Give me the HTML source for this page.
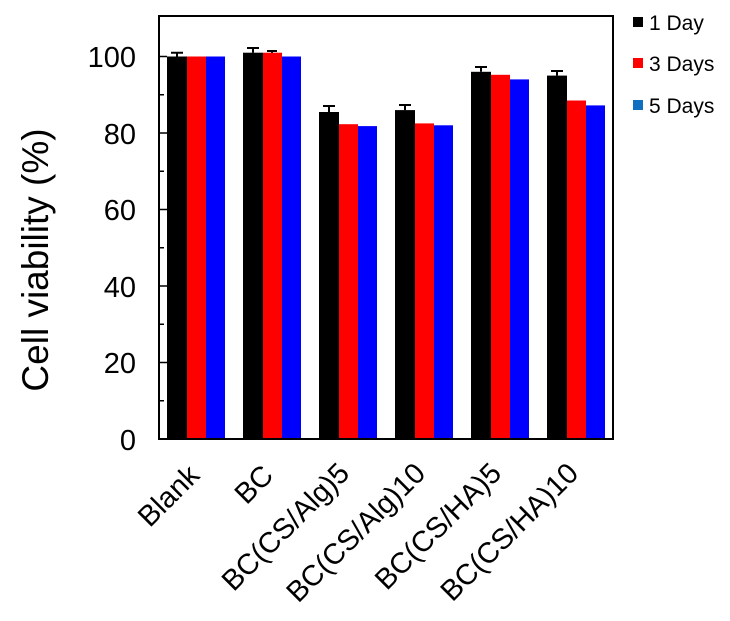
<!DOCTYPE html>
<html><head><meta charset="utf-8"><style>body{margin:0;background:#fff}</style></head>
<body>
<svg width="730" height="616" xmlns="http://www.w3.org/2000/svg" font-family="Liberation Sans, Arial, sans-serif">
<rect width="730" height="616" fill="#fff"/>
<g>
<rect x="167" y="56.5" width="20" height="382.5" fill="#000"/>
<rect x="187" y="56.5" width="19" height="382.5" fill="#f00"/>
<rect x="206" y="56.5" width="19" height="382.5" fill="#00f"/>
<rect x="243" y="52.7" width="20" height="386.3" fill="#000"/>
<rect x="263" y="52.7" width="19" height="386.3" fill="#f00"/>
<rect x="282" y="56.5" width="19" height="382.5" fill="#00f"/>
<rect x="319" y="112" width="20" height="327" fill="#000"/>
<rect x="339" y="124.2" width="19" height="314.8" fill="#f00"/>
<rect x="358" y="126.1" width="19" height="312.9" fill="#00f"/>
<rect x="395" y="110.1" width="20" height="328.9" fill="#000"/>
<rect x="415" y="123.4" width="19" height="315.6" fill="#f00"/>
<rect x="434" y="125.3" width="19" height="313.7" fill="#00f"/>
<rect x="471" y="71.8" width="20" height="367.2" fill="#000"/>
<rect x="491" y="74.8" width="19" height="364.2" fill="#f00"/>
<rect x="510" y="79.4" width="19" height="359.6" fill="#00f"/>
<rect x="547" y="75.6" width="20" height="363.4" fill="#000"/>
<rect x="567" y="100.5" width="19" height="338.5" fill="#f00"/>
<rect x="586" y="105.4" width="19" height="333.6" fill="#00f"/>
</g>
<g stroke="#000" stroke-width="2" fill="none">
<path d="M177 56.5V52.7M171 52.7H183"/>
<path d="M253 52.7V48M247 48H259"/>
<path d="M272 52.7V51M267 51H277"/>
<path d="M329 112V106M323 106H335"/>
<path d="M405 110.1V105M399 105H411"/>
<path d="M481 71.8V67M475 67H487"/>
<path d="M557 75.6V71M551 71H563"/>
</g>
<rect x="159" y="16" width="454" height="423" fill="none" stroke="#000" stroke-width="2"/>
<g stroke="#000" stroke-width="1.5">
<path d="M159 56.5H167M159 133H167M159 209.5H167M159 286H167M159 362.5H167"/>
<path d="M159 94.7H164M159 171.2H164M159 247.7H164M159 324.2H164M159 400.7H164"/>
</g>
<g font-size="29" text-anchor="end" fill="#000">
<text x="136" y="67">100</text>
<text x="136" y="144">80</text>
<text x="136" y="220">60</text>
<text x="136" y="297">40</text>
<text x="136" y="373">20</text>
<text x="136" y="450">0</text>
</g>
<text transform="translate(48,260) rotate(-90)" font-size="37" text-anchor="middle">Cell viability (%)</text>
<g font-size="29" text-anchor="end">
<text transform="translate(201,477) rotate(-45)">Blank</text>
<text transform="translate(275,477) rotate(-45)">BC</text>
<text transform="translate(351,475) rotate(-45)">BC(CS/Alg)5</text>
<text transform="translate(427,475) rotate(-45)">BC(CS/Alg)10</text>
<text transform="translate(503,475) rotate(-45)">BC(CS/HA)5</text>
<text transform="translate(580,475) rotate(-45)">BC(CS/HA)10</text>
</g>
<rect x="633" y="17" width="10" height="10" fill="#000"/>
<rect x="633" y="58" width="10" height="10" fill="#f00"/>
<rect x="633" y="100" width="10" height="10" fill="#1070c0"/>
<g font-size="21">
<text x="649" y="30">1 Day</text>
<text x="649" y="71">3 Days</text>
<text x="649" y="113">5 Days</text>
</g>
</svg>
</body></html>
